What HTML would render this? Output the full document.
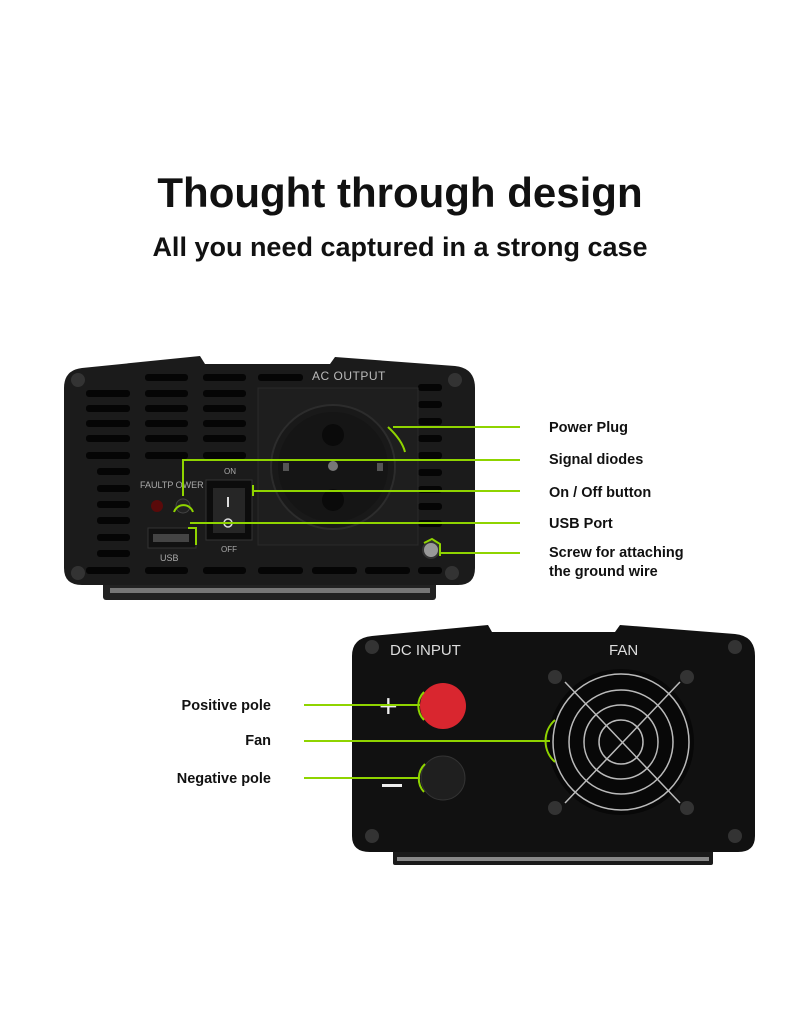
<!DOCTYPE html>
<html><head><meta charset="utf-8"><style>
html,body{margin:0;padding:0;background:#fff;}
body{width:800px;height:1021px;overflow:hidden;font-family:"Liberation Sans",Arial,sans-serif;}
</style></head><body>
<svg width="800" height="1021" viewBox="0 0 800 1021" xmlns="http://www.w3.org/2000/svg" font-family="Liberation Sans, Arial, sans-serif">
<text x="400" y="207" text-anchor="middle" font-size="42" font-weight="bold" fill="#111">Thought through design</text>
<text x="400" y="256" text-anchor="middle" font-size="27" font-weight="bold" fill="#111">All you need captured in a strong case</text>

<!-- TOP DEVICE -->
<rect x="103" y="578" width="333" height="22" rx="3" fill="#222"/>
<rect x="110" y="588" width="320" height="5" fill="#777"/>
<path d="M82 368 L200 356 L205 364 L330 364 L335 357 L455 366 Q475 368 475 388 L475 568 Q475 585 458 585 L82 585 Q64 585 64 568 L64 388 Q64 370 82 368 Z" fill="#1b1b1b"/>
<g fill="#050505">
<rect x="145" y="374" width="43" height="7" rx="3"/><rect x="203" y="374" width="43" height="7" rx="3"/><rect x="258" y="374" width="45" height="7" rx="3"/>
<rect x="86" y="390" width="44" height="7" rx="3"/><rect x="145" y="390" width="43" height="7" rx="3"/><rect x="203" y="390" width="43" height="7" rx="3"/>
<rect x="86" y="405" width="44" height="7" rx="3"/><rect x="145" y="405" width="43" height="7" rx="3"/><rect x="203" y="405" width="43" height="7" rx="3"/>
<rect x="86" y="420" width="44" height="7" rx="3"/><rect x="145" y="420" width="43" height="7" rx="3"/><rect x="203" y="420" width="43" height="7" rx="3"/>
<rect x="86" y="435" width="44" height="7" rx="3"/><rect x="145" y="435" width="43" height="7" rx="3"/><rect x="203" y="435" width="43" height="7" rx="3"/>
<rect x="86" y="452" width="44" height="7" rx="3"/><rect x="145" y="452" width="43" height="7" rx="3"/><rect x="203" y="452" width="43" height="7" rx="3"/>
<rect x="97" y="468" width="33" height="7" rx="3"/><rect x="97" y="485" width="33" height="7" rx="3"/><rect x="97" y="501" width="33" height="7" rx="3"/><rect x="97" y="517" width="33" height="7" rx="3"/><rect x="97" y="534" width="33" height="7" rx="3"/><rect x="97" y="550" width="33" height="7" rx="3"/>
<rect x="86" y="567" width="44" height="7" rx="3"/><rect x="145" y="567" width="43" height="7" rx="3"/><rect x="203" y="567" width="43" height="7" rx="3"/><rect x="258" y="567" width="45" height="7" rx="3"/><rect x="312" y="567" width="45" height="7" rx="3"/><rect x="365" y="567" width="45" height="7" rx="3"/><rect x="418" y="567" width="24" height="7" rx="3"/>
<rect x="418" y="384" width="24" height="7" rx="3"/><rect x="418" y="401" width="24" height="7" rx="3"/><rect x="418" y="418" width="24" height="7" rx="3"/><rect x="418" y="435" width="24" height="7" rx="3"/><rect x="418" y="452" width="24" height="7" rx="3"/><rect x="418" y="469" width="24" height="7" rx="3"/><rect x="418" y="486" width="24" height="7" rx="3"/><rect x="418" y="503" width="24" height="7" rx="3"/><rect x="418" y="520" width="24" height="7" rx="3"/>
</g>
<text x="312" y="380" font-size="12" fill="#bbb" letter-spacing="0.5">AC OUTPUT</text>
<rect x="258" y="388" width="160" height="157" fill="#1e1e1e" stroke="#2a2a2a"/>
<circle cx="333" cy="467" r="62" fill="#191919" stroke="#2c2c2c" stroke-width="2"/>
<circle cx="333" cy="467" r="55" fill="#151515"/>
<circle cx="333" cy="435" r="11" fill="#0a0a0a"/><circle cx="333" cy="500" r="11" fill="#0a0a0a"/>
<circle cx="333" cy="466" r="5" fill="#777"/>
<rect x="283" y="463" width="6" height="8" fill="#555"/><rect x="377" y="463" width="6" height="8" fill="#555"/>
<g fill="#333"><circle cx="78" cy="380" r="7"/><circle cx="455" cy="380" r="7"/><circle cx="78" cy="573" r="7"/><circle cx="452" cy="573" r="7"/></g>
<text x="140" y="488" font-size="9" fill="#aaa">FAULTP OWER</text>
<circle cx="157" cy="506" r="6" fill="#5a0a0a"/><circle cx="183" cy="506" r="7" fill="#222" stroke="#444"/>
<rect x="148" y="528" width="48" height="20" fill="#111" stroke="#333"/>
<rect x="153" y="534" width="36" height="8" fill="#444"/>
<text x="160" y="561" font-size="9" fill="#aaa">USB</text>
<text x="224" y="474" font-size="8" fill="#aaa">ON</text>
<text x="221" y="552" font-size="8" fill="#aaa">OFF</text>
<rect x="206" y="480" width="46" height="60" fill="#0c0c0c" stroke="#333"/>
<rect x="213" y="488" width="32" height="45" fill="#262626"/>
<rect x="227" y="497" width="2" height="10" fill="#ddd"/>
<circle cx="228" cy="523" r="4" fill="none" stroke="#ddd" stroke-width="1.5"/>
<circle cx="431" cy="550" r="8" fill="#999" stroke="#333" stroke-width="2"/>
<g stroke="#8fd400" stroke-width="2" fill="none">
<path d="M388 427 Q402 440 405 452"/><path d="M393 427 L520 427"/>
<path d="M174 512 A10 10 0 0 1 193 512"/><path d="M183 496 L183 460 L520 460"/>
<path d="M253 485 L253 496"/><path d="M253 491 L520 491"/>
<path d="M196 545 L196 528 L188 528"/><path d="M190 523 L520 523"/>
<path d="M424 543 L432 539 L440 544 L440 556"/><path d="M440 553 L520 553"/>
</g>
<g font-size="14.5" font-weight="bold" fill="#111">
<text x="549" y="432">Power Plug</text>
<text x="549" y="464">Signal diodes</text>
<text x="549" y="497">On / Off button</text>
<text x="549" y="528">USB Port</text>
<text x="549" y="557">Screw for attaching</text>
<text x="549" y="576">the ground wire</text>
</g>

<!-- BOTTOM DEVICE -->
<rect x="393" y="845" width="320" height="20" rx="2" fill="#1a1a1a"/>
<rect x="397" y="857" width="312" height="4" fill="#888"/>
<path d="M372 636 L488 625 L492 632 L615 632 L620 625 L735 634 Q755 636 755 656 L755 836 Q755 852 738 852 L370 852 Q352 852 352 836 L352 656 Q352 638 372 636 Z" fill="#111"/>
<text x="390" y="655" font-size="15" fill="#ddd">DC INPUT</text>
<text x="609" y="655" font-size="15" fill="#ddd">FAN</text>
<g fill="#333"><circle cx="372" cy="647" r="7"/><circle cx="735" cy="647" r="7"/><circle cx="372" cy="836" r="7"/><circle cx="735" cy="836" r="7"/>
<circle cx="555" cy="677" r="7"/><circle cx="687" cy="677" r="7"/><circle cx="555" cy="808" r="7"/><circle cx="687" cy="808" r="7"/></g>
<circle cx="621" cy="742" r="73" fill="#080808"/>
<g fill="none" stroke="#bbb" stroke-width="1.5">
<circle cx="621" cy="742" r="68"/><circle cx="621" cy="742" r="52"/><circle cx="621" cy="742" r="37"/><circle cx="621" cy="742" r="22"/>
<line x1="565" y1="682" x2="680" y2="803"/><line x1="680" y1="682" x2="565" y2="803"/>
</g>
<circle cx="443" cy="706" r="23" fill="#d9262f"/>
<circle cx="443" cy="778" r="22" fill="#1f1f1f" stroke="#333"/>
<text x="379" y="717" font-size="32" fill="#eee">+</text>
<rect x="382" y="784" width="20" height="3" fill="#eee"/>
<g stroke="#8fd400" stroke-width="2" fill="none">
<path d="M304 705 L420 705"/><path d="M424 692 A20 20 0 0 0 424 720"/>
<path d="M304 741 L550 741"/><path d="M555 720 A28 28 0 0 0 555 762"/>
<path d="M304 778 L420 778"/><path d="M425 764 A20 20 0 0 0 424 792"/>
</g>
<g font-size="14.5" font-weight="bold" fill="#111" text-anchor="end">
<text x="271" y="710">Positive pole</text>
<text x="271" y="745">Fan</text>
<text x="271" y="783">Negative pole</text>
</g>
</svg>
</body></html>
